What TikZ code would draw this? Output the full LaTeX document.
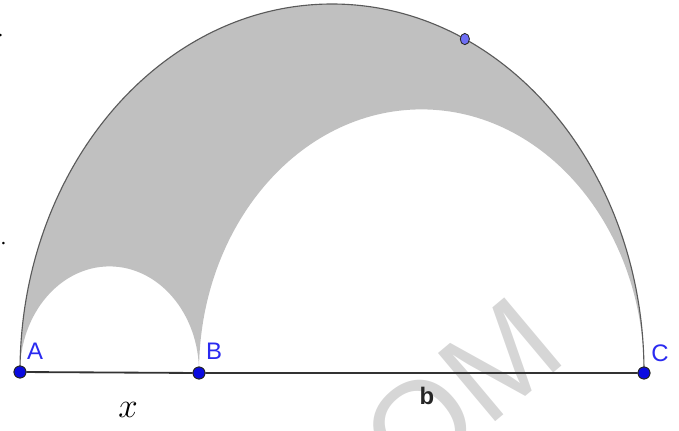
\documentclass[tikz,border=0pt]{standalone}
\usepackage{fontspec}
\setmainfont{Liberation Serif}
\setsansfont{Liberation Sans}
\usetikzlibrary{shapes.geometric}
\definecolor{ptblue}{HTML}{0A0AE0}
\definecolor{lblblue}{HTML}{2A2AF0}
\definecolor{dotblue}{HTML}{6E6EF5}
\definecolor{arbgray}{HTML}{C0C0C0}
\definecolor{arcgray}{HTML}{5A5A5A}
\definecolor{wmark}{HTML}{D6D6D6}
\tikzset{
  gpoint/.style={circle, fill=ptblue, draw=black!85, line width=0.6pt, inner sep=0pt, minimum size=8.5pt},
  gdot/.style={ellipse, fill=dotblue, draw=black!85, line width=0.6pt, inner sep=0pt, minimum width=6.5pt, minimum height=8pt},
  ptlabel/.style={text=lblblue, font=\sffamily\fontsize{17}{17}\selectfont},
}

\begin{document}
\begin{tikzpicture}[x=0.025cm, y=0.025cm]
\useasboundingbox (0,0) rectangle (679,430);

% Watermark
\begin{scope}
\clip (0,0) rectangle (679,430);
\node[rotate=40, text=wmark, font=\sffamily\fontsize{92}{92}\selectfont] (wm) at (462,38) {OM};
\end{scope}

% Shaded region between the arcs
\fill[arbgray] (20,58) arc[start angle=180, end angle=0, x radius=312, y radius=368]
  arc[start angle=0, end angle=180, x radius=222.5, y radius=262.6]
  arc[start angle=0, end angle=180, x radius=89.5, y radius=105.6] -- cycle;

% Outer arc
\draw[arcgray, line width=0.8pt] (20,58) arc[start angle=180, end angle=0, x radius=312, y radius=368];

% Points
\node[gpoint] (A) at (20,58) {};
\node[gpoint] (B) at (199,57) {};
\node[gpoint] (C) at (644,57) {};
\path (332,58) ++(64.8:312 and 368) node[gdot] (D) {};

% Segment
\draw[black!80, line width=1.3pt] (A) -- (B) -- (C);
\node[gpoint] at (A) {};
\node[gpoint] at (B) {};
\node[gpoint] at (C) {};

% Labels
\node[ptlabel] (lblA) at (35,79) {A};
\node[ptlabel] (lblB) at (214,79) {B};
\node[ptlabel] (lblC) at (660,77) {C};
\node[font=\fontsize{26}{26}\selectfont] (lblx) at (128,20) {$x$};
\node[font=\sffamily\bfseries\fontsize{17}{17}\selectfont, text=black!85] (lblb) at (427,34) {b};

% Page fragments
\node[anchor=east, font=\fontsize{15}{15}\selectfont] (frag1) at (11,190) {s.};
\node[anchor=east, font=\fontsize{15}{15}\selectfont] (frag2) at (8,394) {.};

\end{tikzpicture}
\end{document}
